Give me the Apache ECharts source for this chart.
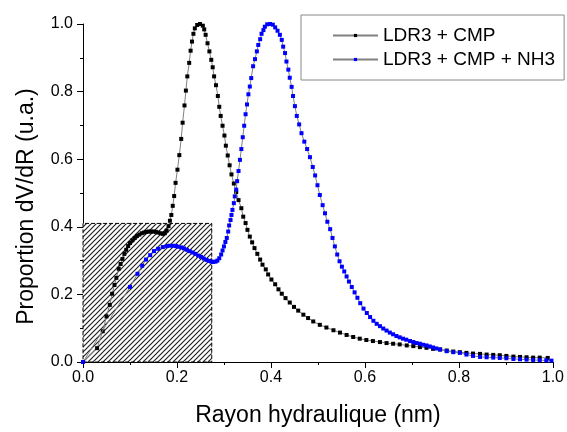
<!DOCTYPE html>
<html>
<head>
<meta charset="utf-8">
<script src="https://cdn.jsdelivr.net/npm/echarts@6/dist/echarts.min.js"></script>
<style>html,body{margin:0;padding:0;background:#fff;}#c{width:567px;height:432px;}</style>
</head>
<body>
<div id="c"></div>
<script>
// ---- data ----
const seriesNames = ['LDR3 + CMP', 'LDR3 + CMP + NH3'];
const xTicks = [0, 0.2, 0.4, 0.6, 0.8, 1.0];
const yTicks = [0, 0.2, 0.4, 0.6, 0.8, 1.0];
const hatchBox = [[0, 0], [0.274, 0.41]];

const cmpX = [0,0.030,0.042,0.050,0.057,0.062,0.067,0.071,0.076,0.080,0.084,0.088,0.092,0.096,0.100,0.105,0.110,0.115,0.120,0.125,0.130,0.135,0.140,0.145,0.150,0.155,0.160,0.165,0.170,0.174,0.178,0.182,0.185,0.188,0.191,0.194,0.197,0.201,0.205,0.209,0.212,0.216,0.219,0.222,0.226,0.229,0.232,0.235,0.238,0.243,0.249,0.255,0.258,0.261,0.265,0.269,0.273,0.276,0.279,0.283,0.287,0.290,0.293,0.297,0.301,0.304,0.308,0.312,0.316,0.321,0.326,0.331,0.337,0.341,0.346,0.350,0.355,0.360,0.365,0.371,0.377,0.382,0.389,0.394,0.401,0.409,0.416,0.423,0.431,0.440,0.449,0.458,0.469,0.479,0.490,0.504,0.518,0.533,0.547,0.561,0.575,0.589,0.603,0.617,0.632,0.646,0.660,0.674,0.689,0.703,0.717,0.731,0.745,0.760,0.774,0.788,0.802,0.816,0.830,0.845,0.859,0.873,0.887,0.901,0.916,0.930,0.944,0.958,0.972,0.989];
const cmpY = [0,0.041,0.091,0.135,0.169,0.202,0.228,0.249,0.276,0.290,0.305,0.320,0.332,0.343,0.352,0.360,0.367,0.373,0.377,0.381,0.383,0.385,0.386,0.386,0.386,0.385,0.383,0.381,0.379,0.381,0.389,0.402,0.418,0.435,0.462,0.491,0.530,0.569,0.612,0.660,0.708,0.759,0.803,0.845,0.885,0.921,0.948,0.971,0.987,0.997,1.000,0.995,0.984,0.968,0.943,0.919,0.894,0.872,0.845,0.819,0.787,0.755,0.728,0.699,0.670,0.640,0.611,0.582,0.555,0.528,0.503,0.479,0.455,0.430,0.411,0.391,0.371,0.354,0.337,0.320,0.303,0.288,0.274,0.259,0.244,0.230,0.215,0.202,0.189,0.176,0.163,0.152,0.140,0.130,0.120,0.110,0.102,0.094,0.087,0.080,0.074,0.069,0.065,0.062,0.059,0.056,0.054,0.052,0.049,0.047,0.044,0.042,0.039,0.037,0.034,0.031,0.029,0.027,0.025,0.024,0.022,0.021,0.020,0.018,0.016,0.015,0.014,0.013,0.013,0.012];

const nh3X = [0,0.100,0.116,0.126,0.134,0.143,0.151,0.160,0.170,0.179,0.185,0.192,0.198,0.203,0.209,0.215,0.221,0.227,0.233,0.239,0.245,0.251,0.257,0.263,0.268,0.273,0.277,0.282,0.286,0.290,0.294,0.297,0.300,0.303,0.306,0.309,0.311,0.314,0.316,0.318,0.321,0.323,0.326,0.328,0.331,0.334,0.337,0.340,0.343,0.346,0.349,0.352,0.355,0.358,0.362,0.366,0.370,0.373,0.377,0.380,0.384,0.387,0.392,0.398,0.404,0.409,0.414,0.419,0.423,0.426,0.430,0.433,0.437,0.440,0.444,0.447,0.451,0.455,0.460,0.465,0.471,0.477,0.483,0.489,0.494,0.499,0.504,0.510,0.515,0.520,0.526,0.531,0.536,0.541,0.546,0.551,0.556,0.561,0.566,0.572,0.578,0.584,0.590,0.597,0.604,0.611,0.618,0.625,0.632,0.639,0.646,0.653,0.660,0.667,0.674,0.681,0.688,0.696,0.703,0.710,0.717,0.724,0.731,0.738,0.745,0.752,0.760,0.774,0.788,0.802,0.816,0.830,0.845,0.859,0.873,0.887,0.901,0.916,0.930,0.944,0.958,0.972,0.986,0.997];
const nh3Y = [0,0.222,0.261,0.285,0.303,0.316,0.328,0.335,0.340,0.343,0.344,0.344,0.343,0.341,0.339,0.336,0.332,0.328,0.324,0.320,0.315,0.311,0.306,0.302,0.299,0.297,0.296,0.297,0.300,0.307,0.318,0.330,0.342,0.355,0.367,0.386,0.404,0.420,0.435,0.450,0.470,0.490,0.510,0.535,0.565,0.598,0.630,0.665,0.699,0.733,0.762,0.792,0.815,0.840,0.875,0.896,0.919,0.938,0.955,0.971,0.982,0.992,0.999,1.000,0.998,0.990,0.980,0.968,0.953,0.933,0.914,0.889,0.865,0.841,0.814,0.787,0.757,0.728,0.703,0.677,0.652,0.630,0.606,0.577,0.552,0.523,0.494,0.464,0.440,0.415,0.393,0.367,0.342,0.318,0.298,0.282,0.268,0.253,0.238,0.222,0.206,0.190,0.174,0.158,0.145,0.133,0.122,0.113,0.106,0.099,0.093,0.087,0.082,0.077,0.073,0.069,0.066,0.062,0.059,0.056,0.054,0.051,0.049,0.046,0.043,0.040,0.037,0.032,0.029,0.027,0.022,0.018,0.015,0.014,0.013,0.012,0.011,0.009,0.008,0.007,0.006,0.005,0.005,0.004];

// ---- hatch pattern ----
function hatch() {
  const s = 5;
  const c = document.createElement('canvas');
  c.width = s; c.height = s;
  const g = c.getContext('2d');
  g.fillStyle = '#fff';
  g.fillRect(0, 0, s, s);
  g.strokeStyle = '#222';
  g.lineWidth = 1.2;
  g.beginPath();
  g.moveTo(0, s); g.lineTo(s, 0);
  g.moveTo(-1, 1); g.lineTo(1, -1);
  g.moveTo(s - 1, s + 1); g.lineTo(s + 1, s - 1);
  g.stroke();
  return { image: c, repeat: 'repeat' };
}

const FONT = 'Liberation Sans, Arial, sans-serif';
const zip = (xs, ys) => xs.map((x, i) => [x, ys[i]]);

const chart = echarts.init(document.getElementById('c'), null, { renderer: 'canvas' });
chart.setOption({
  animation: false,
  backgroundColor: '#fff',
  grid: { left: 83, right: 14, top: 24, bottom: 67, containLabel: false },
  legend: {
    orient: 'vertical',
    left: 301, top: 15,
    padding: [11, 9, 11, 31],
    itemGap: 5,
    itemWidth: 45, itemHeight: 4,
    borderColor: '#888', borderWidth: 1,
    textStyle: { fontFamily: FONT, fontSize: 19, color: '#000' },
    data: seriesNames
  },
  xAxis: {
    type: 'value', min: 0, max: 1, interval: 0.2,
    name: 'Rayon hydraulique (nm)', nameLocation: 'middle', nameGap: 42,
    nameTextStyle: { fontFamily: FONT, fontSize: 23, color: '#000' },
    axisLine: { show: true, onZero: false, lineStyle: { color: '#000', width: 1 } },
    axisTick: { show: true, inside: false, length: 6, lineStyle: { color: '#000' } },
    minorTick: { show: true, splitNumber: 2, length: 3, lineStyle: { color: '#000' } },
    axisLabel: { fontFamily: FONT, fontSize: 16, color: '#000', margin: 8, formatter: v => v.toFixed(1) },
    splitLine: { show: false }
  },
  yAxis: {
    type: 'value', min: 0, max: 1, interval: 0.2,
    name: 'Proportion dV/dR (u.a.)', nameLocation: 'middle', nameGap: 45,
    nameTextStyle: { fontFamily: FONT, fontSize: 23, color: '#000', padding: [0, 27, 0, 0] },
    axisLine: { show: true, onZero: false, lineStyle: { color: '#000', width: 1 } },
    axisTick: { show: true, inside: false, length: 6, lineStyle: { color: '#000' } },
    minorTick: { show: true, splitNumber: 2, length: 3, lineStyle: { color: '#000' } },
    axisLabel: { fontFamily: FONT, fontSize: 16, color: '#000', margin: 10, formatter: v => v.toFixed(1) },
    splitLine: { show: false }
  },
  series: [
    {
      name: seriesNames[0], type: 'line',
      data: zip(cmpX, cmpY),
      symbol: 'rect', symbolSize: 4, showAllSymbol: true,
      itemStyle: { color: '#000' },
      lineStyle: { color: '#808080', width: 1 },
      z: 3,
      markArea: {
        silent: true,
        itemStyle: { color: hatch(), borderColor: '#000', borderWidth: 1, borderType: 'dashed', opacity: 1 },
        data: [[{ coord: hatchBox[0] }, { coord: hatchBox[1] }]]
      }
    },
    {
      name: seriesNames[1], type: 'line',
      data: zip(nh3X, nh3Y),
      symbol: 'rect', symbolSize: 4, showAllSymbol: true,
      itemStyle: { color: '#0000ff' },
      lineStyle: { color: '#808080', width: 1 },
      z: 4
    }
  ]
});
</script>
</body>
</html>
